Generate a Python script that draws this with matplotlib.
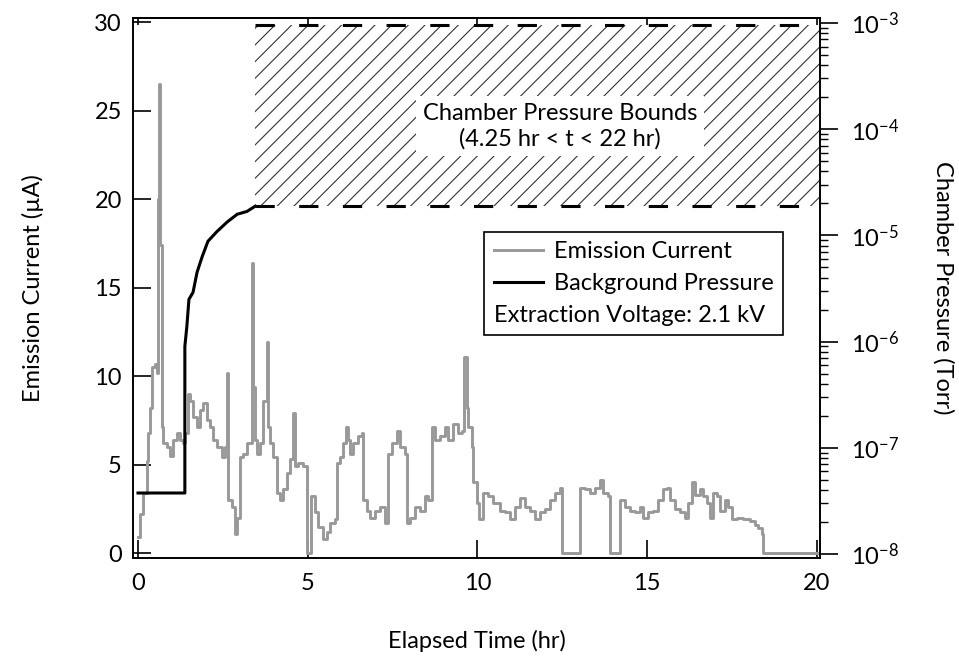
import numpy as np
import matplotlib
matplotlib.use('Agg')
import matplotlib.pyplot as plt
from matplotlib.lines import Line2D
from matplotlib.ticker import LogLocator, FuncFormatter, NullFormatter

plt.rcParams['font.family'] = ['Lato', 'DejaVu Sans']
plt.rcParams['font.size'] = 17
plt.rcParams['hatch.linewidth'] = 0.8

# emission current (step data), hr / uA
t_em = [0.0, 0.06, 0.15, 0.27, 0.29, 0.35, 0.41, 0.50, 0.56, 0.59, 0.63, 0.66,
        0.71, 0.74, 0.85, 0.94, 1.03, 1.15, 1.24, 1.33, 1.38, 1.47, 1.53, 1.62,
        1.74, 1.83, 1.91, 2.03, 2.12, 2.21, 2.33, 2.47, 2.56, 2.62, 2.65, 2.77,
        2.86, 2.92, 3.00, 3.09, 3.21, 3.36, 3.39, 3.45, 3.51, 3.59, 3.68, 3.80,
        3.83, 3.89, 3.98, 4.09, 4.18, 4.27, 4.39, 4.48, 4.57, 4.62, 4.71, 4.86,
        4.98, 5.10, 5.21, 5.30, 5.45, 5.57, 5.66, 5.80, 5.86, 5.95, 6.04, 6.13,
        6.19, 6.24, 6.33, 6.48, 6.60, 6.63, 6.75, 6.83, 6.98, 7.13, 7.28, 7.36,
        7.48, 7.63, 7.72, 7.86, 7.92, 8.01, 8.16, 8.31, 8.45, 8.54, 8.66, 8.75,
        8.90, 9.04, 9.13, 9.28, 9.43, 9.54, 9.60, 9.69, 9.72, 9.84, 9.87, 9.99,
        10.04, 10.16, 10.31, 10.46, 10.66, 10.81, 10.96, 11.10, 11.25, 11.40,
        11.55, 11.69, 11.84, 11.99, 12.14, 12.28, 12.43, 12.49, 13.02, 13.17,
        13.31, 13.46, 13.61, 13.70, 13.81, 13.84, 13.90, 14.20, 14.34, 14.49,
        14.64, 14.79, 14.87, 15.02, 15.17, 15.32, 15.46, 15.58, 15.67, 15.82,
        15.96, 16.11, 16.20, 16.32, 16.41, 16.55, 16.64, 16.76, 16.85, 16.94,
        17.05, 17.14, 17.29, 17.38, 17.50, 17.64, 17.82, 18.03, 18.17, 18.26,
        18.38, 18.41, 20.0]
i_em = [0.9, 2.2, 3.4, 5.2, 6.8, 8.2, 10.5, 10.7, 10.2, 20.0, 26.5, 17.4,
        7.1, 6.2, 6.0, 5.5, 6.4, 6.8, 6.4, 6.2, 6.8, 9.0, 8.6, 7.7,
        7.1, 8.1, 8.5, 7.5, 7.1, 6.4, 6.0, 5.4, 6.0, 10.2, 3.0, 2.6,
        1.1, 2.0, 5.4, 5.6, 6.2, 16.4, 9.4, 6.4, 5.6, 6.2, 8.6, 11.9,
        7.1, 6.2, 5.4, 3.4, 3.0, 3.6, 4.5, 5.3, 7.9, 4.9, 5.1, 4.9,
        0.0, 3.2, 2.3, 1.5, 0.8, 1.2, 1.7, 1.9, 5.1, 5.4, 6.2, 7.1,
        6.4, 5.6, 6.2, 6.6, 6.8, 3.0, 2.4, 2.0, 2.4, 2.6, 1.7, 5.6,
        6.2, 6.9, 6.0, 5.6, 1.7, 2.0, 2.6, 2.4, 3.2, 3.0, 7.1, 6.4,
        6.6, 7.1, 6.4, 7.3, 6.8, 6.9, 11.1, 8.2, 7.1, 6.0, 4.0, 2.8,
        1.9, 3.4, 3.2, 2.8, 2.4, 2.3, 1.9, 2.6, 3.1, 2.6,
        2.4, 1.9, 2.3, 2.5, 3.0, 3.4, 3.7, 0.0, 3.7, 3.6,
        3.4, 3.7, 4.1, 3.4, 3.4, 3.2, 0.0, 3.0, 2.6, 2.4,
        2.3, 2.6, 2.0, 2.3, 2.4, 3.0, 3.6, 3.7, 3.0, 2.5,
        2.3, 2.0, 2.8, 4.0, 3.3, 3.6, 3.2, 2.8, 2.0, 3.4,
        3.2, 2.4, 3.0, 2.6, 1.9, 2.0, 1.9, 1.8, 1.6, 1.4,
        1.1, 0.0, 0.0]

# background pressure, hr / Torr
t_bg = [0.0, 1.38, 1.38, 1.44, 1.50, 1.62, 1.74, 1.89, 2.06, 2.33, 2.62, 2.92, 3.21, 3.45]
p_bg = [3.75e-8, 3.75e-8, 9.0e-7, 1.4e-6, 2.5e-6, 2.9e-6, 4.5e-6, 6.3e-6, 8.8e-6,
        1.09e-5, 1.33e-5, 1.58e-5, 1.68e-5, 1.88e-5]

# chamber pressure bounds
bound_t = [3.45, 22.0]
bound_lo = 1.88e-5
bound_hi = 9.5e-4

fig = plt.figure(figsize=(9.59, 6.61), dpi=100)
ax = fig.add_axes([0.1387, 0.1558, 0.7164, 0.8170])
ax2 = ax.twinx()

l1, = ax.plot(t_em, i_em, color='#999999', lw=2.1, drawstyle='steps-post')
l2, = ax2.plot(t_bg, p_bg, color='k', lw=2.2)

ax2.fill_between(bound_t, bound_lo, bound_hi, facecolor='none',
                 edgecolor='#333333', hatch='//', lw=0)
for p in (bound_lo, bound_hi):
    ax2.plot(bound_t, [p, p], color='k', lw=2.2, dashes=(6.3, 8.0))

ax2.text(12.43, 1.07e-4, 'Chamber Pressure Bounds\n(4.25 hr < t < 22 hr)',
         ha='center', va='center', linespacing=1.25,
         bbox=dict(facecolor='white', edgecolor='none', pad=5))

# axes limits / ticks
ax.set_xlim(-0.147, 20.09)
ax.set_ylim(-0.28, 30.23)
ax2.set_yscale('log')
ax2.set_ylim(9.16e-9, 1.114e-3)

ax.set_xticks([0, 5, 10, 15, 20])
ax.set_yticks(range(0, 31, 5))
ax.tick_params(axis='x', direction='in', length=13, width=1.2, pad=11)
ax.tick_params(axis='y', direction='in', length=13, width=1.2, pad=8)

top = ax.secondary_xaxis('top')
top.set_xticks([0, 5, 10, 15, 20])
top.xaxis.set_major_formatter(NullFormatter())
top.tick_params(direction='in', length=5, width=1.2)
top.spines['top'].set_linewidth(1.2)

ax2.yaxis.set_major_locator(LogLocator(base=10, numticks=10))
ax2.yaxis.set_minor_locator(LogLocator(base=10, subs=np.arange(2, 10), numticks=10))
ax2.yaxis.set_major_formatter(FuncFormatter(
    lambda v, pos: r'$\mathregular{10^{%d}}$' % round(np.log10(v))))
ax2.yaxis.set_minor_formatter(NullFormatter())
ax2.tick_params(which='major', direction='out', length=13, width=1.2, pad=9)
ax2.tick_params(which='minor', direction='out', length=6, width=1.0)

for a in (ax, ax2):
    for s in a.spines.values():
        s.set_linewidth(1.2)

ax.set_xlabel('Elapsed Time (hr)', labelpad=26)
ax.set_ylabel('Emission Current (µA)', labelpad=36)
ax2.set_ylabel('Chamber Pressure (Torr)', rotation=270, va='bottom', labelpad=24)

blank = Line2D([], [], color='none')
leg = ax2.legend([l1, l2, blank],
                 ['Emission Current', 'Background Pressure', 'Extraction Voltage: 2.1 kV'],
                 loc='upper left', bbox_to_anchor=(0.511, 0.604), borderaxespad=0,
                 fancybox=False, edgecolor='k', framealpha=1, handlelength=2.1,
                 handletextpad=0.45, labelspacing=0.45, borderpad=0.4)
leg.get_frame().set_linewidth(1.2)
# third row is plain text, no handle
row = leg._legend_handle_box.get_children()[0].get_children()[2]
row.get_children()[0].width = 0
row.sep = 0

fig.savefig('out.png', dpi=100)
